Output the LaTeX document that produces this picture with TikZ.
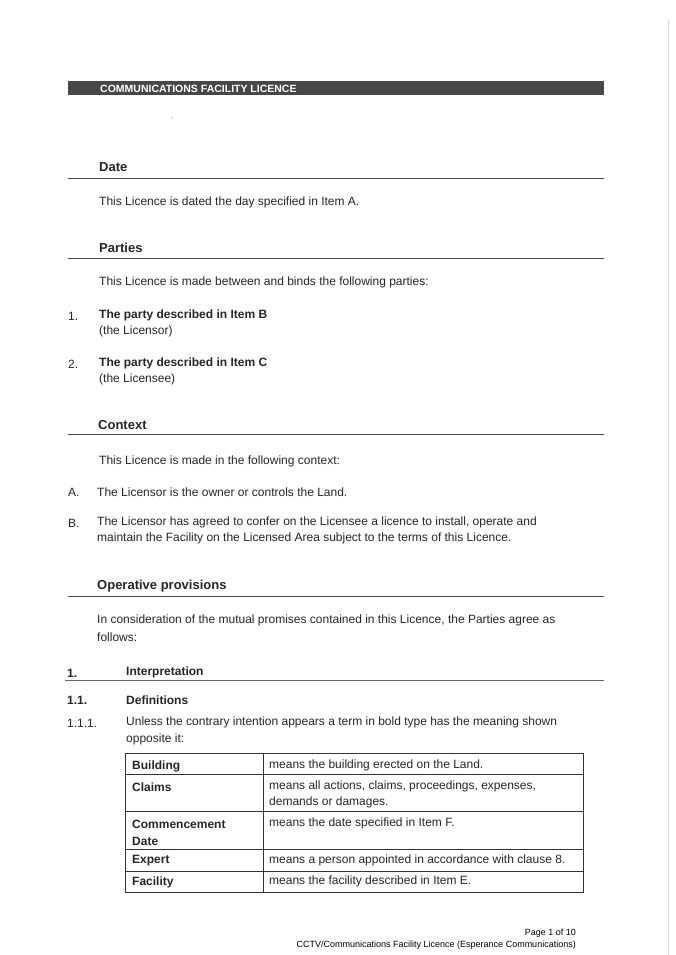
\documentclass[tikz,border=0pt]{standalone}
\usepackage{fontspec}
\setmainfont{Liberation Sans}
\begin{document}
\begin{tikzpicture}[x=1pt,y=-1pt,
  txt/.style={anchor=west,inner sep=0pt,font=\fontsize{12}{16}\selectfont,text=black!85},
  hd/.style={txt,font=\fontsize{13}{16}\selectfont\bfseries},
  rulel/.style={draw=black!70,line width=0.9pt},
  cell/.style={txt,font=\fontsize{12}{16}\selectfont\bfseries,align=left},
  tab/.style={draw=black!80,line width=0.8pt}]
\useasboundingbox[fill=white] (0,0) rectangle (675,955);
\draw[black!15] (668,20) -- (668,955);
% header bar
\fill[black!72] (68,81) rectangle (604,95);
\node[txt,text=white,font=\fontsize{10.5}{12}\selectfont\bfseries] (title) at (100,88.5) {COMMUNICATIONS FACILITY LICENCE};
\fill[black!50] (172,118) circle (0.6);
% Date
\node[hd] (date) at (99,167) {Date};
\draw[rulel] (68,178) -- (604,178);
\node[txt] (d1) at (99,202) {This Licence is dated the day specified in Item A.};
% Parties
\node[hd] (parties) at (99,248) {Parties};
\draw[rulel] (68,258) -- (604,258);
\node[txt] (p0) at (99,282) {This Licence is made between and binds the following parties:};
\node[txt] (n1) at (68,316) {1.};
\node[txt,font=\fontsize{12}{16}\selectfont\bfseries] (p1) at (99,315) {The party described in Item B};
\node[txt] (p1b) at (99,331) {(the Licensor)};
\node[txt] (n2) at (68,364) {2.};
\node[txt,font=\fontsize{12}{16}\selectfont\bfseries] (p2) at (99,363) {The party described in Item C};
\node[txt] (p2b) at (99,379) {(the Licensee)};
% Context
\node[hd] (context) at (98,425) {Context};
\draw[rulel] (68,434) -- (604,434);
\node[txt] (c0) at (99,461) {This Licence is made in the following context:};
\node[txt] (ca) at (68,492) {A.};
\node[txt] (c1) at (97,492) {The Licensor is the owner or controls the Land.};
\node[txt] (cb) at (68,523) {B.};
\node[txt] (c2) at (97,522) {The Licensor has agreed to confer on the Licensee a licence to install, operate and};
\node[txt] (c2b) at (97,538) {maintain the Facility on the Licensed Area subject to the terms of this Licence.};
% Operative
\node[hd] (op) at (97,586) {Operative provisions};
\draw[rulel] (68,596) -- (604,596);
\node[txt] (o1) at (97,620) {In consideration of the mutual promises contained in this Licence, the Parties agree as};
\node[txt] (o1b) at (97,637) {follows:};
\node[txt,font=\fontsize{12}{16}\selectfont\bfseries] (s1) at (67,673) {1.};
\node[txt,font=\fontsize{12}{16}\selectfont\bfseries] (s1t) at (126,672) {Interpretation};
\draw[black!60,line width=0.8pt] (65,680) -- (604,680);
\node[txt,font=\fontsize{12}{16}\selectfont\bfseries] (s11) at (67,700) {1.1.};
\node[txt,font=\fontsize{12}{16}\selectfont\bfseries] (s11t) at (126,700) {Definitions};
\node[txt] (s111) at (67,723) {1.1.1.};
\node[txt] (s111t) at (126,722) {Unless the contrary intention appears a term in bold type has the meaning shown};
\node[txt] (s111b) at (126,739) {opposite it:};
% table
\draw[tab] (125,753) rectangle (583,892);
\foreach \yy in {774,811,849,871} \draw[tab] (125,\yy) -- (583,\yy);
\draw[tab] (263,753) -- (263,892);
\node[cell] (t1) at (132,766) {Building};
\node[txt] (m1) at (269,765) {means the building erected on the Land.};
\node[cell] (t2) at (132,787) {Claims};
\node[txt] (m2) at (269,786) {means all actions, claims, proceedings, expenses,};
\node[txt] (m2b) at (269,802) {demands or damages.};
\node[cell] (t3) at (132,824) {Commencement};
\node[cell] (t3b) at (132,841) {Date};
\node[txt] (m3) at (269,823) {means the date specified in Item F.};
\node[cell] (t4) at (132,861) {Expert};
\node[txt] (m4) at (269,860) {means a person appointed in accordance with clause 8.};
\node[cell] (t5) at (132,882) {Facility};
\node[txt] (m5) at (269,881) {means the facility described in Item E.};
% footer
\node[anchor=east,inner sep=0pt,font=\fontsize{9}{11}\selectfont] (pg) at (576,933) {Page 1 of 10};
\node[anchor=east,inner sep=0pt,font=\fontsize{9}{11}\selectfont] (ft) at (576,945) {CCTV/Communications Facility Licence (Esperance Communications)};
\end{tikzpicture}
\end{document}
